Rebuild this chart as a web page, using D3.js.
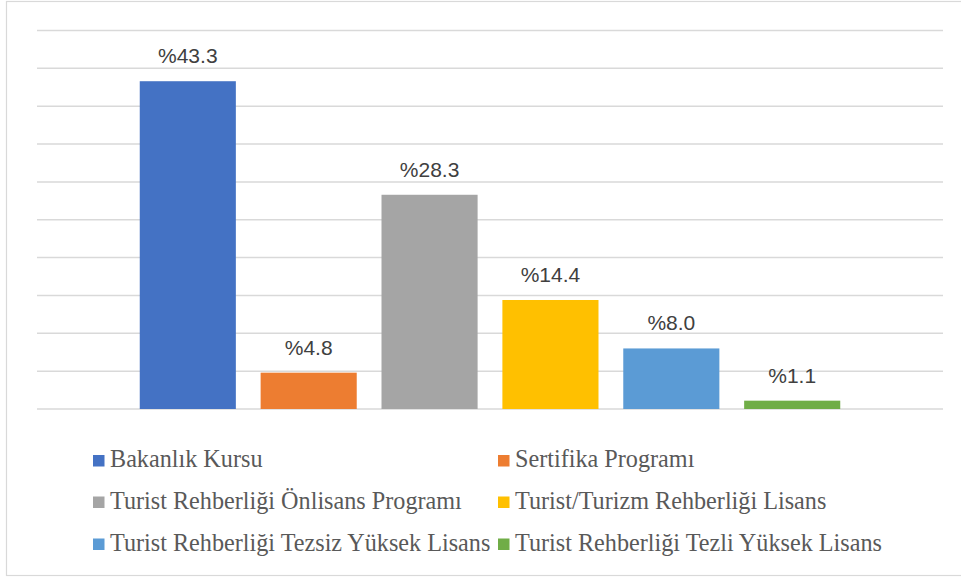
<!DOCTYPE html>
<html>
<head>
<meta charset="utf-8">
<script src="https://cdn.jsdelivr.net/npm/d3@7"></script>
<style>
  body { margin: 0; background: #fff; }
  #chart-container svg { display: block; }
  .legend-label { font-family: "Liberation Serif", "Times New Roman", "DejaVu Serif", serif; }
</style>
</head>
<body>
<div id="chart-container"></div>
<script>
// Data
const seriesNames = [
  "Bakanlık Kursu",
  "Sertifika Programı",
  "Turist Rehberliği Önlisans Programı",
  "Turist/Turizm Rehberliği Lisans",
  "Turist Rehberliği Tezsiz Yüksek Lisans",
  "Turist Rehberliği Tezli Yüksek Lisans"
];
const seriesValues = [43.3, 4.8, 28.3, 14.4, 8.0, 1.1];
const seriesColors = ["#4472c4", "#ed7d31", "#a5a5a5", "#ffc000", "#5b9bd5", "#70ad47"];
const gridTicks = [0, 5, 10, 15, 20, 25, 30, 35, 40, 45, 50];

const plotWidth = 961, plotHeight = 577;
const plot = { left: 37, right: 943, top: 30, bottom: 409 };

const svg = d3.select("#chart-container")
  .append("svg")
  .attr("width", plotWidth)
  .attr("height", plotHeight);

// Outer frame (right edge runs past the picture)
svg.append("rect")
  .attr("x", 6.5).attr("y", 1.5)
  .attr("width", 1000).attr("height", 574)
  .attr("fill", "none")
  .attr("stroke", "#d9d9d9")
  .attr("stroke-width", 1.2);

const data = seriesNames.map((name, i) => ({ name, value: seriesValues[i], color: seriesColors[i] }));

// One category, six series side by side
const xScale = d3.scaleBand()
  .domain(seriesNames)
  .range([plot.left, plot.right])
  .paddingInner(0.205)
  .paddingOuter(0.85);

const yScale = d3.scaleLinear()
  .domain([0, 50])
  .range([plot.bottom, plot.top + 0.5]);

// Gridlines
svg.append("g")
  .selectAll("line")
  .data(gridTicks)
  .enter()
  .append("line")
  .attr("x1", plot.left)
  .attr("x2", plot.right)
  .attr("y1", d => yScale(d))
  .attr("y2", d => yScale(d))
  .attr("stroke", "#d9d9d9")
  .attr("stroke-width", 1.5);

// Bars
svg.append("g")
  .selectAll("rect")
  .data(data)
  .enter()
  .append("rect")
  .attr("x", d => xScale(d.name))
  .attr("y", d => yScale(d.value))
  .attr("width", xScale.bandwidth())
  .attr("height", d => yScale(0) - yScale(d.value))
  .attr("fill", d => d.color);

// Value labels
svg.append("g")
  .selectAll("text")
  .data(data)
  .enter()
  .append("text")
  .attr("x", d => xScale(d.name) + xScale.bandwidth() / 2)
  .attr("y", d => yScale(d.value) - 18)
  .attr("text-anchor", "middle")
  .style("font-family", "'Liberation Sans', Arial, sans-serif")
  .style("font-size", "21px")
  .style("fill", "#404040")
  .text(d => "%" + d.value.toFixed(1));

// Legend: two columns, three rows
const legendCols = [93, 498];
const legendRows = [467, 508.5, 550.5];
const legend = svg.append("g")
  .selectAll("g")
  .data(data)
  .enter()
  .append("g")
  .attr("transform", (d, i) => `translate(${legendCols[i % 2]},${legendRows[Math.floor(i / 2)]})`);

legend.append("rect")
  .attr("x", 0)
  .attr("y", -12)
  .attr("width", 11.5)
  .attr("height", 11.5)
  .attr("fill", d => d.color);

legend.append("text")
  .attr("class", "legend-label")
  .attr("x", 17)
  .attr("y", 0)
  .style("font-size", "24.2px")
  .style("fill", "#595959")
  .text(d => d.name);
</script>
</body>
</html>
